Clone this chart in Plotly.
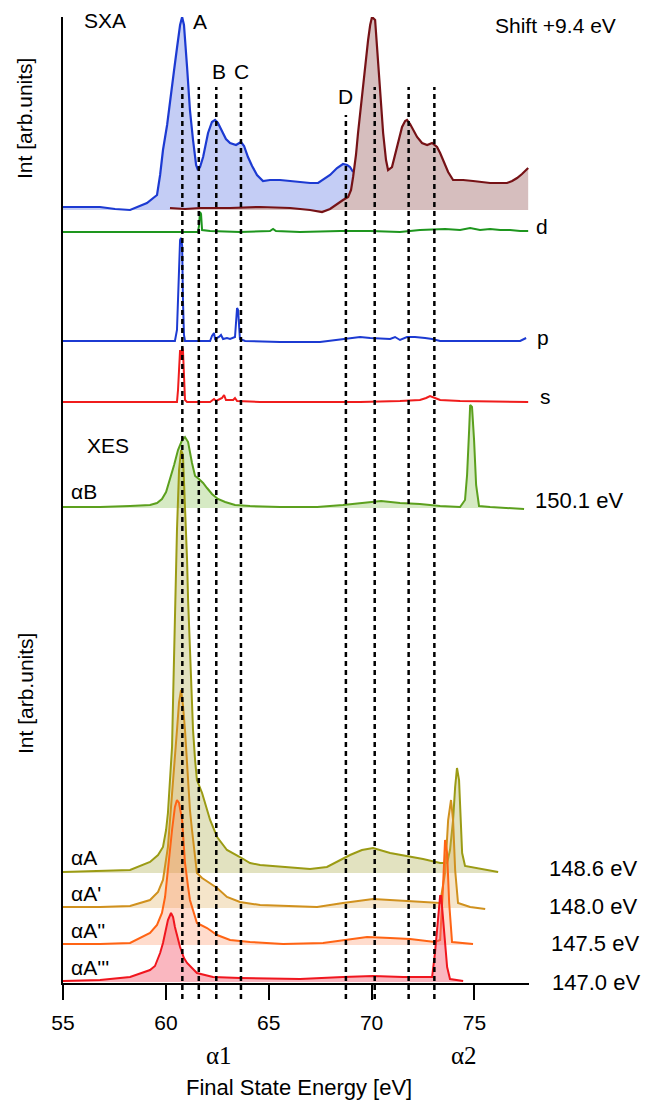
import plotly.graph_objects as go

# ---------------------------------------------------------------------------
# Spectra: energy (eV) and intensity (arb. units) for every curve
# ---------------------------------------------------------------------------
sxa_e = [55.00, 55.97, 56.80, 57.53, 58.26, 59.08, 59.47, 59.57, 59.72, 59.86,
         60.06, 60.20, 60.40, 60.54, 60.69, 60.79, 60.88, 61.03, 61.17, 61.32,
         61.47, 61.56, 61.66, 61.81, 62.05, 62.24, 62.39, 62.53, 62.73, 62.92,
         63.12, 63.41, 63.65, 63.80, 63.99, 64.19, 64.43, 64.72, 65.06, 65.55,
         66.04, 66.52, 67.01, 67.40, 67.64, 67.98, 68.32, 68.61, 68.81, 68.95,
         69.10]
sxa_i = [3, 3, 3, 1, 0, 7, 13, 15, 35, 60,
         85, 110, 140, 162, 185, 193, 185, 143, 100, 70,
         45, 40, 43, 53, 77, 88, 90, 87, 79, 71,
         67, 65, 68, 64, 53, 44, 35, 29, 30, 30,
         29, 28, 27, 27, 30, 35, 42, 46, 45, 43,
         38]

sxa_shift_e = [60.20, 60.93, 61.66, 63.12, 64.58, 66.04, 67.01, 67.59, 67.98, 68.32,
               68.61, 68.86, 69.00, 69.10, 69.24, 69.34, 69.49, 69.58, 69.73, 69.83,
               69.93, 70.02, 70.17, 70.26, 70.31, 70.46, 70.56, 70.70, 70.80, 70.99,
               71.14, 71.24, 71.38, 71.48, 71.63, 71.72, 71.87, 72.01, 72.21, 72.45,
               72.70, 72.94, 73.08, 73.18, 73.33, 73.47, 73.72, 73.96, 74.45, 74.93,
               75.27, 75.76, 76.58, 76.83, 77.07, 77.31, 77.61]
sxa_shift_i = [2, 1, 2, 2, 3, 2, 0, -2, 1, 6,
               10, 13, 20, 33, 55, 77, 105, 127, 155, 170,
               185, 193, 190, 165, 143, 100, 77, 50, 40, 43,
               55, 63, 75, 83, 89, 90, 86, 80, 73, 67,
               65, 67, 65, 63, 57, 50, 38, 30, 30, 29,
               28, 27, 27, 29, 32, 36, 42]

d_e = [55.00, 57.77, 59.72, 61.56, 61.61, 61.66, 61.71, 61.76, 62.15, 63.60,
       65.06, 65.21, 65.35, 66.52, 68.47, 69.93, 71.38, 72.35, 73.57, 74.30,
       74.79, 75.27, 75.76, 76.25, 76.73, 77.22, 77.61]
d_i = [0, 0, 0, 0, 6, 20, 18, 2, 1, 0,
       1, 3, 1, 0, 1, 1, 0, 2, 3, 2,
       4, 2, 3, 2, 2, 1, 1]

p_e = [55.00, 57.77, 60.44, 60.54, 60.59, 60.64, 60.69, 60.74, 60.79, 60.83,
       60.88, 60.93, 62.15, 62.24, 62.34, 62.39, 62.58, 62.68, 62.78, 62.97,
       63.12, 63.36, 63.41, 63.46, 63.51, 63.55, 63.60, 63.85, 65.55, 67.49,
       68.61, 69.44, 69.93, 70.90, 71.14, 71.38, 71.72, 72.11, 72.60, 72.94,
       73.33, 75.27, 77.22, 77.51]
p_i = [0, 0, 0, 11, 41, 81, 101, 103, 96, 41,
       6, 0, 0, 5, 8, 2, 4, 6, 2, 3,
       2, 4, 23, 33, 31, 11, 2, 0, -1, -1,
       2, 4, 3, 2, 4, 1, 4, 4, 3, 2,
       0, 0, 0, 3]

s_e = [55.00, 57.77, 60.54, 60.59, 60.64, 60.69, 60.74, 60.79, 60.83, 60.88,
       60.93, 61.03, 62.15, 62.34, 62.44, 62.73, 62.83, 62.92, 63.27, 63.36,
       63.46, 64.58, 66.52, 69.44, 71.38, 72.35, 72.65, 72.84, 73.08, 73.33,
       74.30, 76.25, 77.61]
s_i = [0, 0, 0, 12, 42, 52, 42, 55, 52, 22,
       2, 0, 0, 3, 1, 4, 7, 2, 2, 4,
       1, 0, 0, 0, 1, 2, 4, 6, 4, 2,
       1, 0, 0]

xes_b_e = [55.00, 56.80, 58.26, 59.23, 59.57, 59.81, 60.01, 60.20, 60.40, 60.59,
           60.79, 60.93, 61.08, 61.27, 61.42, 61.61, 61.81, 62.00, 62.24, 62.53,
           62.88, 63.36, 64.09, 65.55, 67.35, 68.61, 69.44, 70.46, 71.38, 72.35,
           73.33, 74.30, 74.54, 74.64, 74.74, 74.79, 74.88, 74.98, 75.08, 75.22,
           75.76, 76.73, 77.41]
xes_b_i = [1, 1, 2, 3, 5, 9, 16, 28, 43, 58,
           68, 71, 66, 45, 32, 29, 25, 20, 14, 9,
           6, 3, 2, 1, 1, 3, 5, 7, 5, 4,
           2, 1, 8, 33, 78, 103, 101, 68, 23, 2,
           1, 0, -1]

xes_a_e = [55.00, 56.80, 58.26, 59.23, 59.62, 59.86, 60.01, 60.10, 60.20, 60.30,
           60.35, 60.40, 60.44, 60.54, 60.64, 60.74, 60.83, 60.93, 61.03, 61.08,
           61.17, 61.27, 61.32, 61.42, 61.51, 61.76, 61.95, 62.15, 62.49, 62.97,
           63.60, 64.09, 64.58, 65.70, 67.01, 67.83, 68.47, 68.95, 69.53, 70.07,
           70.90, 71.72, 72.50, 73.33, 73.67, 73.81, 73.96, 74.06, 74.15, 74.25,
           74.30, 74.40, 74.54, 75.13, 76.15]
xes_a_i = [1, 2, 3, 11, 18, 26, 43, 60, 88, 126,
           173, 223, 273, 343, 403, 423, 418, 373, 313, 273,
           223, 183, 143, 113, 93, 80, 67, 53, 36, 23,
           16, 10, 8, 6, 4, 6, 13, 18, 23, 25,
           20, 17, 14, 10, 10, 23, 53, 86, 105, 93,
           73, 20, 7, 5, 1]

xes_a1_e = [55.00, 56.80, 58.26, 59.23, 59.62, 59.86, 60.10, 60.25, 60.35, 60.44,
            60.54, 60.64, 60.74, 60.83, 60.93, 61.08, 61.17, 61.27, 61.42, 61.51,
            61.76, 62.15, 62.49, 62.97, 63.60, 64.58, 65.70, 67.35, 68.61, 70.07,
            71.72, 72.94, 73.33, 73.57, 73.72, 73.86, 73.96, 74.06, 74.20, 74.79,
            75.52]
xes_a1_i = [1, 1, 2, 8, 16, 28, 61, 98, 128, 153,
            178, 206, 218, 203, 178, 128, 98, 78, 50, 35,
            30, 25, 20, 11, 6, 3, 2, 1, 5, 9,
            7, 5, 5, 35, 88, 108, 88, 38, 5, 1,
            -1]

xes_a2_e = [55.00, 56.80, 58.26, 59.23, 59.57, 59.81, 59.96, 60.06, 60.20, 60.30,
            60.44, 60.54, 60.64, 60.79, 60.88, 60.93, 61.08, 61.17, 61.51, 62.00,
            62.49, 63.12, 64.09, 65.70, 67.64, 68.61, 69.78, 70.90, 71.87, 73.08,
            73.33, 73.47, 73.57, 73.67, 73.77, 73.91, 74.93]
xes_a2_i = [1, 1, 2, 12, 20, 32, 48, 65, 95, 115,
            138, 145, 142, 125, 100, 82, 58, 45, 22, 17,
            10, 5, 3, 1, 2, 5, 8, 7, 6, 3,
            5, 58, 105, 92, 42, 3, 1]

xes_a3_e = [55.00, 56.80, 58.26, 59.23, 59.47, 59.72, 59.86, 59.96, 60.10, 60.25,
            60.35, 60.44, 60.59, 60.69, 60.88, 61.03, 61.51, 62.29, 63.60, 66.52,
            68.61, 70.07, 71.53, 72.94, 73.08, 73.23, 73.33, 73.38, 73.47, 73.67,
            73.81, 74.45]
xes_a3_i = [1, 2, 5, 12, 16, 29, 39, 49, 62, 69,
            65, 55, 42, 35, 24, 19, 9, 5, 4, 3,
            5, 6, 5, 5, 29, 62, 86, 86, 62, 15,
            3, 1]

# Marked features (eV) and their labels
feature_e = [60.8, 61.6, 62.45, 63.65, 68.75, 70.15, 71.8, 73.05]
tick_vals = [55, 60, 65, 70, 75]
tick_text = ["55", "60", "65", "70", "75"]
excitation_labels = ["150.1 eV", "148.6 eV", "148.0 eV", "147.5 eV", "147.0 eV"]

# ---------------------------------------------------------------------------
# Layout geometry and styles
# ---------------------------------------------------------------------------
W, H = 653, 1100
ML, MR, MT, MB = 63, 124, 17, 117
PLOT_W, PLOT_H = W - ML - MR, H - MT - MB
X_RANGE = [55, 77.65]
Y_TOP = 966

# vertical stacking of the curves
offset = {"sxa": 773, "d": 751, "p": 642, "s": 581, "aB": 475,
          "aA": 110, "aA1": 75, "aA2": 38, "aA3": 1}

SANS = "Liberation Sans, Arial, Helvetica, sans-serif"
SERIF = "Liberation Serif, Times New Roman, serif"
FS = 21


def paper(px, py):
    """Pixel position inside the page -> paper coordinates."""
    return (px - ML) / PLOT_W, (H - MB - py) / PLOT_H


fig = go.Figure()


def add_curve(e, inten, base, color, fillcolor=None, width=2.0):
    y = [base + v for v in inten]
    if fillcolor:
        fig.add_trace(go.Scatter(x=[e[0], e[-1]], y=[base, base], mode="lines",
                                 line=dict(width=0, color=fillcolor),
                                 hoverinfo="skip", showlegend=False))
        fig.add_trace(go.Scatter(x=e, y=y, mode="lines",
                                 line=dict(color=color, width=width),
                                 fill="tonexty", fillcolor=fillcolor,
                                 hoverinfo="skip", showlegend=False))
    else:
        fig.add_trace(go.Scatter(x=e, y=y, mode="lines",
                                 line=dict(color=color, width=width),
                                 hoverinfo="skip", showlegend=False))


# SXA and its shifted copy
add_curve(sxa_e, sxa_i, offset["sxa"], "rgb(28,58,210)", "rgba(70,100,225,0.32)", 2.2)
add_curve(sxa_shift_e, sxa_shift_i, offset["sxa"], "rgb(118,18,22)", "rgb(214,190,190)", 2.2)

# projected densities
add_curve(d_e, d_i, offset["d"], "rgb(30,150,30)", None, 2.0)
add_curve(p_e, p_i, offset["p"], "rgb(28,58,210)", None, 2.0)
add_curve(s_e, s_i, offset["s"], "rgb(240,28,28)", None, 2.0)

# XES spectra
add_curve(xes_b_e, xes_b_i, offset["aB"], "rgb(92,160,30)", "rgba(120,185,60,0.30)", 2.0)
add_curve(xes_a_e, xes_a_i, offset["aA"], "rgb(155,155,20)", "rgba(165,165,60,0.32)", 2.0)
add_curve(xes_a1_e, xes_a1_i, offset["aA1"], "rgb(208,145,30)", "rgba(225,175,90,0.32)", 2.0)
add_curve(xes_a2_e, xes_a2_i, offset["aA2"], "rgb(255,100,20)", "rgba(255,140,90,0.30)", 2.0)
add_curve(xes_a3_e, xes_a3_i, offset["aA3"], "rgb(240,22,30)", "rgba(245,95,115,0.45)", 2.0)

# dashed guide lines through the features
for k, e in enumerate(feature_e):
    top = 868 if k == 4 else 896
    fig.add_shape(type="line", xref="x", yref="paper", x0=e, x1=e,
                  y0=-16 / Y_TOP, y1=top / Y_TOP, layer="above",
                  line=dict(color="black", width=2.5, dash="5px,4px"))


def text(s, px, py, size=FS, family=SANS, anchor="center", angle=0):
    x, y = paper(px, py)
    fig.add_annotation(text=s, x=x, y=y, xref="paper", yref="paper",
                       showarrow=False, xanchor=anchor, yanchor="middle",
                       textangle=angle, font=dict(family=family, size=size, color="black"))


text("SXA", 105, 21)
text("A", 200, 22)
text("B", 219, 71)
text("C", 241, 71)
text("D", 345, 97)
text("Shift +9.4 eV", 555, 25)
text("d", 542, 227)
text("p", 543, 337)
text("s", 545, 396)
text("XES", 108, 445)
text("αB", 69, 492, anchor="left")
text("αA", 69, 857, anchor="left")
text("αA'", 69, 893, anchor="left")
text("αA''", 69, 930, anchor="left")
text("αA'''", 69, 967, anchor="left")
text(excitation_labels[0], 579, 500, size=22)
text(excitation_labels[1], 593, 868, size=22)
text(excitation_labels[2], 593, 906, size=22)
text(excitation_labels[3], 595, 943, size=22)
text(excitation_labels[4], 596, 982, size=22)
text("α1", 219, 1055, size=25, family=SERIF)
text("α2", 464, 1055, size=25, family=SERIF)
text("Final State Energy [eV]", 299, 1087, size=22)
text("Int [arb.units]", 25, 119, angle=-90)
text("Int [arb.units]", 25, 694, angle=-90)

fig.update_layout(
    width=W, height=H,
    margin=dict(l=ML, r=MR, t=MT, b=MB, pad=0),
    paper_bgcolor="white", plot_bgcolor="white",
    showlegend=False,
    xaxis=dict(range=X_RANGE, showline=True, linecolor="black", linewidth=2,
               ticks="outside", ticklen=15, tickwidth=2, tickcolor="black",
               tickvals=tick_vals, ticktext=tick_text, ticklabelstandoff=5,
               tickfont=dict(family=SANS, size=FS, color="black"),
               showgrid=False, zeroline=False),
    yaxis=dict(range=[0, Y_TOP], showline=True, linecolor="black", linewidth=2,
               ticks="", showticklabels=False, showgrid=False, zeroline=False),
)

fig.write_html("out.html")
